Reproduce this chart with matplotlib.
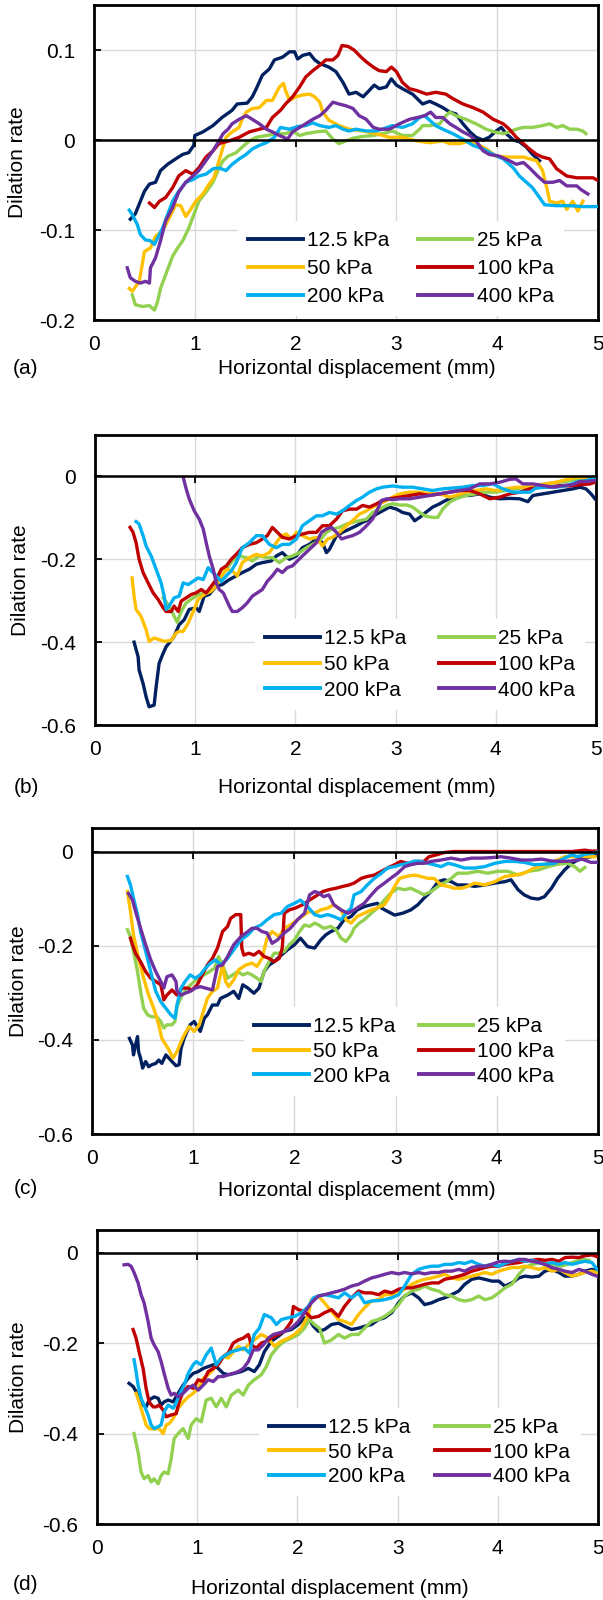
import matplotlib
matplotlib.use("Agg")
import matplotlib.pyplot as plt

plt.rcParams['font.family'] = ['Liberation Sans', 'DejaVu Sans']
plt.rcParams['axes.unicode_minus'] = False

# ---------------- data ----------------
series_labels = ['12.5 kPa', '25 kPa', '50 kPa', '100 kPa', '200 kPa', '400 kPa']
series_colors = ['#002060', '#92D050', '#FFC000', '#C00000', '#00B0F0', '#7030A0']
x_ticks = [0, 1, 2, 3, 4, 5]
x_label = 'Horizontal displacement (mm)'
y_label = 'Dilation rate'

A_125 = [(0.36,-0.088),(0.41,-0.082),(0.50,-0.057),(0.55,-0.049),(0.61,-0.047),(0.66,-0.034),(0.73,-0.027),(0.81,-0.021),(0.88,-0.016),(0.94,-0.014),(0.99,-0.006),(1.00,0.005),(1.08,0.009),(1.18,0.016),(1.27,0.025),(1.37,0.033),(1.42,0.040),(1.52,0.041),(1.57,0.048),(1.61,0.057),(1.67,0.072),(1.74,0.079),(1.79,0.089),(1.87,0.092),(1.94,0.098),(1.99,0.098),(2.02,0.090),(2.07,0.094),(2.14,0.096),(2.19,0.089),(2.24,0.085),(2.33,0.081),(2.40,0.076),(2.47,0.064),(2.53,0.051),(2.60,0.053),(2.67,0.048),(2.73,0.055),(2.78,0.061),(2.83,0.057),(2.90,0.059),(2.95,0.068),(3.00,0.061),(3.06,0.057),(3.16,0.051),(3.26,0.040),(3.33,0.043),(3.39,0.040),(3.46,0.036),(3.53,0.031),(3.59,0.029),(3.66,0.018),(3.73,0.009),(3.79,0.003),(3.86,0.000),(3.92,0.003),(3.99,0.010),(4.04,0.014),(4.09,0.007),(4.16,0.000),(4.22,-0.002),(4.29,-0.008),(4.35,-0.016),(4.42,-0.023)]
A_25 = [(0.38,-0.172),(0.41,-0.183),(0.48,-0.185),(0.55,-0.184),(0.60,-0.189),(0.63,-0.180),(0.66,-0.165),(0.71,-0.150),(0.78,-0.129),(0.83,-0.120),(0.88,-0.112),(0.94,-0.098),(0.99,-0.083),(1.04,-0.068),(1.11,-0.058),(1.18,-0.047),(1.23,-0.034),(1.28,-0.023),(1.33,-0.018),(1.41,-0.014),(1.47,-0.008),(1.54,-0.001),(1.61,0.003),(1.71,0.005),(1.81,0.007),(1.90,0.007),(1.97,0.010),(2.04,0.005),(2.10,0.007),(2.20,0.009),(2.30,0.010),(2.37,0.001),(2.43,-0.004),(2.50,-0.001),(2.57,0.002),(2.67,0.004),(2.77,0.005),(2.86,0.007),(2.96,0.010),(3.06,0.005),(3.16,0.005),(3.23,0.012),(3.26,0.016),(3.33,0.016),(3.43,0.018),(3.49,0.027),(3.53,0.031),(3.59,0.027),(3.69,0.023),(3.79,0.018),(3.89,0.012),(3.97,0.009),(4.06,0.007),(4.12,0.009),(4.19,0.012),(4.26,0.014),(4.35,0.014),(4.45,0.016),(4.52,0.018),(4.59,0.014),(4.65,0.016),(4.72,0.012),(4.79,0.012),(4.85,0.010),(4.88,0.007)]
A_50 = [(0.35,-0.165),(0.38,-0.168),(0.45,-0.157),(0.50,-0.124),(0.56,-0.120),(0.61,-0.107),(0.68,-0.101),(0.75,-0.086),(0.81,-0.072),(0.86,-0.073),(0.91,-0.085),(0.96,-0.077),(1.01,-0.068),(1.08,-0.060),(1.13,-0.051),(1.19,-0.042),(1.24,-0.023),(1.28,-0.008),(1.31,0.003),(1.37,0.009),(1.44,0.014),(1.47,0.023),(1.51,0.031),(1.57,0.035),(1.64,0.036),(1.71,0.044),(1.77,0.044),(1.84,0.059),(1.88,0.063),(1.90,0.055),(1.94,0.044),(2.00,0.048),(2.07,0.050),(2.14,0.051),(2.19,0.048),(2.24,0.042),(2.27,0.031),(2.33,0.022),(2.43,0.016),(2.53,0.012),(2.67,0.010),(2.80,0.007),(2.93,0.003),(3.06,0.003),(3.20,-0.001),(3.33,-0.003),(3.46,-0.001),(3.53,-0.004),(3.63,-0.004),(3.73,-0.001),(3.79,-0.004),(3.89,-0.010),(3.99,-0.018),(4.12,-0.019),(4.26,-0.019),(4.39,-0.023),(4.45,-0.034),(4.50,-0.057),(4.52,-0.068),(4.59,-0.070),(4.65,-0.068),(4.69,-0.077),(4.75,-0.068),(4.80,-0.079),(4.85,-0.068)]
A_100 = [(0.55,-0.070),(0.60,-0.075),(0.65,-0.068),(0.71,-0.064),(0.78,-0.053),(0.84,-0.040),(0.91,-0.034),(0.98,-0.038),(1.04,-0.031),(1.11,-0.019),(1.18,-0.012),(1.24,-0.004),(1.34,-0.001),(1.44,0.003),(1.54,0.009),(1.64,0.012),(1.71,0.014),(1.77,0.025),(1.85,0.033),(1.90,0.040),(1.97,0.048),(2.04,0.059),(2.10,0.070),(2.17,0.077),(2.24,0.083),(2.30,0.089),(2.37,0.089),(2.42,0.094),(2.46,0.105),(2.52,0.104),(2.58,0.100),(2.65,0.092),(2.70,0.087),(2.77,0.081),(2.83,0.077),(2.90,0.076),(2.95,0.081),(3.00,0.076),(3.06,0.064),(3.13,0.057),(3.20,0.055),(3.30,0.051),(3.39,0.053),(3.49,0.051),(3.56,0.046),(3.66,0.040),(3.76,0.036),(3.86,0.031),(3.96,0.023),(4.06,0.018),(4.12,0.012),(4.19,0.003),(4.26,-0.004),(4.32,-0.010),(4.39,-0.016),(4.45,-0.019),(4.52,-0.021),(4.59,-0.032),(4.69,-0.040),(4.79,-0.042),(4.88,-0.042),(4.95,-0.042),(5.00,-0.045)]
A_200 = [(0.35,-0.078),(0.38,-0.083),(0.43,-0.094),(0.46,-0.105),(0.51,-0.111),(0.56,-0.112),(0.60,-0.116),(0.63,-0.109),(0.68,-0.098),(0.73,-0.083),(0.78,-0.068),(0.84,-0.057),(0.91,-0.047),(0.98,-0.044),(1.04,-0.040),(1.11,-0.038),(1.18,-0.032),(1.24,-0.031),(1.31,-0.034),(1.37,-0.027),(1.44,-0.021),(1.51,-0.016),(1.57,-0.010),(1.64,-0.006),(1.71,-0.003),(1.79,0.003),(1.85,0.014),(1.94,0.012),(2.02,0.015),(2.10,0.016),(2.17,0.019),(2.24,0.016),(2.33,0.014),(2.40,0.016),(2.47,0.012),(2.53,0.010),(2.60,0.012),(2.70,0.010),(2.80,0.010),(2.86,0.012),(2.96,0.016),(3.06,0.014),(3.16,0.018),(3.23,0.025),(3.28,0.027),(3.33,0.022),(3.39,0.016),(3.46,0.012),(3.56,0.007),(3.66,0.001),(3.76,-0.006),(3.86,-0.010),(3.96,-0.016),(4.06,-0.021),(4.16,-0.031),(4.22,-0.040),(4.29,-0.047),(4.35,-0.053),(4.42,-0.064),(4.47,-0.072),(4.59,-0.073),(4.72,-0.073),(4.85,-0.074),(5.00,-0.074)]
A_400 = [(0.33,-0.142),(0.36,-0.153),(0.41,-0.157),(0.46,-0.159),(0.51,-0.157),(0.55,-0.159),(0.56,-0.142),(0.61,-0.131),(0.66,-0.112),(0.71,-0.090),(0.78,-0.075),(0.84,-0.058),(0.91,-0.047),(0.98,-0.040),(1.04,-0.034),(1.11,-0.023),(1.18,-0.012),(1.24,-0.001),(1.28,0.007),(1.33,0.012),(1.37,0.018),(1.44,0.023),(1.51,0.027),(1.57,0.023),(1.64,0.018),(1.71,0.012),(1.77,0.009),(1.84,0.005),(1.92,0.001),(1.97,0.009),(2.04,0.014),(2.10,0.018),(2.17,0.023),(2.24,0.027),(2.30,0.033),(2.37,0.042),(2.43,0.040),(2.50,0.038),(2.57,0.035),(2.63,0.027),(2.70,0.023),(2.77,0.014),(2.83,0.012),(2.93,0.012),(3.03,0.018),(3.13,0.023),(3.21,0.025),(3.28,0.027),(3.34,0.031),(3.39,0.025),(3.46,0.025),(3.53,0.018),(3.59,0.014),(3.66,0.009),(3.73,0.005),(3.79,-0.001),(3.86,-0.012),(3.92,-0.016),(4.02,-0.018),(4.12,-0.023),(4.19,-0.027),(4.26,-0.025),(4.32,-0.031),(4.40,-0.040),(4.47,-0.047),(4.55,-0.047),(4.62,-0.045),(4.69,-0.051),(4.79,-0.051),(4.83,-0.055),(4.90,-0.060)]

B_125 = [(0.39,-0.400),(0.43,-0.435),(0.44,-0.467),(0.48,-0.500),(0.51,-0.532),(0.54,-0.556),(0.59,-0.552),(0.61,-0.508),(0.64,-0.451),(0.68,-0.427),(0.71,-0.411),(0.74,-0.402),(0.79,-0.386),(0.84,-0.358),(0.89,-0.346),(0.94,-0.321),(1.01,-0.317),(1.04,-0.326),(1.09,-0.289),(1.14,-0.285),(1.21,-0.265),(1.27,-0.261),(1.34,-0.249),(1.41,-0.240),(1.47,-0.232),(1.54,-0.224),(1.61,-0.212),(1.67,-0.208),(1.76,-0.204),(1.81,-0.192),(1.87,-0.184),(1.94,-0.200),(2.01,-0.192),(2.07,-0.172),(2.14,-0.164),(2.21,-0.151),(2.27,-0.160),(2.31,-0.184),(2.34,-0.176),(2.41,-0.143),(2.47,-0.135),(2.54,-0.127),(2.61,-0.119),(2.67,-0.111),(2.74,-0.103),(2.81,-0.091),(2.87,-0.083),(2.94,-0.074),(3.01,-0.079),(3.07,-0.087),(3.14,-0.091),(3.19,-0.107),(3.24,-0.099),(3.30,-0.087),(3.37,-0.074),(3.44,-0.066),(3.50,-0.058),(3.57,-0.050),(3.64,-0.046),(3.74,-0.046),(3.84,-0.042),(3.94,-0.050),(4.04,-0.054),(4.14,-0.053),(4.24,-0.054),(4.32,-0.061),(4.37,-0.046),(4.47,-0.042),(4.57,-0.038),(4.67,-0.034),(4.77,-0.030),(4.84,-0.026),(4.90,-0.030),(4.95,-0.042),(4.99,-0.054)]
B_25 = [(0.68,-0.293),(0.74,-0.313),(0.82,-0.352),(0.86,-0.326),(0.91,-0.305),(0.98,-0.293),(1.04,-0.285),(1.11,-0.281),(1.18,-0.269),(1.24,-0.249),(1.31,-0.224),(1.37,-0.204),(1.44,-0.192),(1.51,-0.196),(1.57,-0.204),(1.64,-0.192),(1.71,-0.196),(1.77,-0.196),(1.84,-0.208),(1.91,-0.196),(1.97,-0.192),(2.04,-0.184),(2.11,-0.172),(2.17,-0.164),(2.24,-0.155),(2.31,-0.135),(2.37,-0.127),(2.44,-0.123),(2.51,-0.115),(2.57,-0.111),(2.64,-0.107),(2.71,-0.103),(2.77,-0.087),(2.84,-0.079),(2.91,-0.070),(2.97,-0.066),(3.04,-0.069),(3.11,-0.069),(3.17,-0.074),(3.24,-0.087),(3.30,-0.096),(3.37,-0.099),(3.42,-0.099),(3.47,-0.079),(3.54,-0.062),(3.60,-0.054),(3.70,-0.046),(3.80,-0.042),(3.90,-0.038),(4.00,-0.038),(4.10,-0.034),(4.20,-0.030),(4.30,-0.026),(4.40,-0.022),(4.50,-0.018),(4.60,-0.015),(4.70,-0.012),(4.80,-0.007),(4.90,-0.004),(4.97,-0.002)]
B_50 = [(0.37,-0.245),(0.39,-0.289),(0.41,-0.321),(0.46,-0.338),(0.51,-0.370),(0.54,-0.398),(0.59,-0.390),(0.64,-0.394),(0.69,-0.398),(0.76,-0.396),(0.81,-0.378),(0.84,-0.374),(0.88,-0.374),(0.93,-0.354),(0.98,-0.326),(1.03,-0.297),(1.09,-0.285),(1.16,-0.277),(1.21,-0.265),(1.26,-0.240),(1.31,-0.224),(1.37,-0.228),(1.42,-0.240),(1.47,-0.208),(1.54,-0.196),(1.61,-0.188),(1.67,-0.192),(1.74,-0.184),(1.81,-0.160),(1.86,-0.143),(1.91,-0.139),(1.96,-0.151),(2.01,-0.135),(2.07,-0.143),(2.14,-0.151),(2.21,-0.147),(2.27,-0.168),(2.32,-0.151),(2.37,-0.147),(2.44,-0.135),(2.51,-0.119),(2.57,-0.107),(2.64,-0.091),(2.71,-0.083),(2.77,-0.074),(2.84,-0.066),(2.91,-0.058),(2.97,-0.050),(3.04,-0.042),(3.14,-0.038),(3.24,-0.038),(3.34,-0.042),(3.44,-0.042),(3.54,-0.050),(3.60,-0.046),(3.70,-0.038),(3.80,-0.034),(3.90,-0.030),(4.00,-0.034),(4.10,-0.030),(4.20,-0.026),(4.30,-0.026),(4.40,-0.022),(4.50,-0.018),(4.60,-0.014),(4.70,-0.008),(4.80,-0.002),(4.87,-0.002),(4.94,-0.006)]
B_100 = [(0.35,-0.123),(0.38,-0.135),(0.41,-0.160),(0.44,-0.200),(0.48,-0.232),(0.53,-0.257),(0.58,-0.281),(0.63,-0.297),(0.68,-0.317),(0.71,-0.326),(0.76,-0.326),(0.79,-0.313),(0.83,-0.326),(0.86,-0.301),(0.91,-0.293),(0.96,-0.285),(1.01,-0.281),(1.06,-0.273),(1.11,-0.281),(1.16,-0.265),(1.21,-0.249),(1.26,-0.224),(1.31,-0.216),(1.36,-0.200),(1.41,-0.188),(1.47,-0.172),(1.54,-0.164),(1.61,-0.160),(1.67,-0.151),(1.72,-0.143),(1.77,-0.123),(1.82,-0.135),(1.87,-0.147),(1.94,-0.151),(2.01,-0.143),(2.07,-0.139),(2.14,-0.135),(2.21,-0.135),(2.27,-0.119),(2.34,-0.119),(2.41,-0.103),(2.47,-0.083),(2.54,-0.079),(2.61,-0.079),(2.67,-0.070),(2.74,-0.074),(2.81,-0.066),(2.87,-0.058),(2.94,-0.054),(3.04,-0.050),(3.14,-0.046),(3.24,-0.042),(3.34,-0.046),(3.44,-0.042),(3.54,-0.038),(3.64,-0.034),(3.74,-0.034),(3.84,-0.042),(3.94,-0.054),(4.04,-0.050),(4.14,-0.042),(4.24,-0.038),(4.34,-0.030),(4.44,-0.026),(4.54,-0.026),(4.64,-0.022),(4.74,-0.023),(4.84,-0.020),(4.94,-0.018),(4.99,-0.014)]
B_200 = [(0.41,-0.109),(0.44,-0.115),(0.48,-0.143),(0.51,-0.168),(0.56,-0.192),(0.61,-0.224),(0.66,-0.257),(0.69,-0.289),(0.71,-0.321),(0.74,-0.313),(0.79,-0.293),(0.84,-0.289),(0.88,-0.257),(0.93,-0.261),(0.98,-0.253),(1.03,-0.245),(1.08,-0.249),(1.13,-0.220),(1.16,-0.228),(1.21,-0.240),(1.26,-0.253),(1.31,-0.240),(1.36,-0.228),(1.41,-0.208),(1.47,-0.172),(1.54,-0.160),(1.61,-0.143),(1.67,-0.143),(1.74,-0.164),(1.81,-0.172),(1.87,-0.164),(1.94,-0.164),(2.01,-0.151),(2.07,-0.119),(2.14,-0.107),(2.21,-0.095),(2.27,-0.095),(2.34,-0.087),(2.41,-0.091),(2.47,-0.083),(2.54,-0.070),(2.61,-0.058),(2.67,-0.050),(2.74,-0.038),(2.81,-0.030),(2.87,-0.026),(2.97,-0.023),(3.07,-0.026),(3.17,-0.026),(3.27,-0.030),(3.37,-0.034),(3.47,-0.030),(3.57,-0.028),(3.67,-0.026),(3.77,-0.022),(3.87,-0.022),(3.97,-0.018),(4.07,-0.030),(4.17,-0.038),(4.27,-0.038),(4.34,-0.038),(4.40,-0.028),(4.50,-0.026),(4.60,-0.026),(4.70,-0.023),(4.80,-0.014),(4.90,-0.010),(4.99,-0.004)]
B_400 = [(0.88,-0.002),(0.91,-0.030),(0.94,-0.054),(0.99,-0.083),(1.04,-0.103),(1.08,-0.127),(1.11,-0.160),(1.14,-0.192),(1.18,-0.224),(1.21,-0.257),(1.24,-0.273),(1.28,-0.281),(1.31,-0.297),(1.34,-0.313),(1.37,-0.326),(1.42,-0.326),(1.47,-0.317),(1.52,-0.305),(1.57,-0.289),(1.62,-0.281),(1.67,-0.273),(1.72,-0.253),(1.77,-0.240),(1.82,-0.224),(1.87,-0.232),(1.92,-0.220),(1.97,-0.216),(2.02,-0.204),(2.07,-0.192),(2.14,-0.176),(2.21,-0.160),(2.26,-0.135),(2.31,-0.127),(2.36,-0.123),(2.41,-0.135),(2.46,-0.151),(2.51,-0.147),(2.57,-0.143),(2.64,-0.135),(2.71,-0.119),(2.77,-0.103),(2.82,-0.079),(2.86,-0.058),(2.91,-0.054),(2.97,-0.056),(3.04,-0.054),(3.14,-0.054),(3.24,-0.050),(3.34,-0.046),(3.44,-0.042),(3.54,-0.038),(3.64,-0.034),(3.74,-0.030),(3.84,-0.018),(3.94,-0.018),(4.04,-0.014),(4.14,-0.007),(4.20,-0.006),(4.27,-0.018),(4.37,-0.018),(4.47,-0.022),(4.57,-0.026),(4.67,-0.022),(4.77,-0.020),(4.84,-0.012),(4.92,-0.012),(4.99,-0.010)]

C_125 = [(0.37,-0.397),(0.40,-0.411),(0.41,-0.432),(0.43,-0.411),(0.45,-0.393),(0.46,-0.425),(0.48,-0.439),(0.50,-0.460),(0.53,-0.446),(0.56,-0.457),(0.59,-0.453),(0.63,-0.450),(0.66,-0.443),(0.69,-0.450),(0.73,-0.432),(0.76,-0.439),(0.79,-0.446),(0.83,-0.455),(0.86,-0.453),(0.88,-0.418),(0.91,-0.397),(0.94,-0.382),(0.97,-0.368),(1.01,-0.361),(1.04,-0.372),(1.07,-0.382),(1.11,-0.354),(1.14,-0.347),(1.19,-0.326),(1.24,-0.326),(1.27,-0.312),(1.34,-0.305),(1.40,-0.297),(1.45,-0.312),(1.49,-0.283),(1.54,-0.290),(1.60,-0.301),(1.65,-0.290),(1.70,-0.255),(1.75,-0.241),(1.80,-0.234),(1.87,-0.220),(1.93,-0.209),(2.00,-0.198),(2.06,-0.184),(2.13,-0.202),(2.20,-0.205),(2.26,-0.188),(2.31,-0.177),(2.36,-0.170),(2.43,-0.163),(2.49,-0.145),(2.56,-0.138),(2.62,-0.124),(2.69,-0.117),(2.76,-0.113),(2.82,-0.110),(2.86,-0.120),(2.92,-0.127),(2.99,-0.135),(3.07,-0.131),(3.15,-0.124),(3.22,-0.113),(3.28,-0.099),(3.35,-0.085),(3.42,-0.064),(3.48,-0.060),(3.55,-0.064),(3.61,-0.071),(3.70,-0.071),(3.78,-0.074),(3.88,-0.071),(3.98,-0.067),(4.08,-0.064),(4.14,-0.060),(4.21,-0.081),(4.27,-0.092),(4.34,-0.099),(4.41,-0.101),(4.47,-0.096),(4.54,-0.078),(4.60,-0.057),(4.67,-0.039),(4.74,-0.025),(4.80,-0.018),(4.87,-0.014),(4.93,-0.011),(5.00,-0.007)]
C_25 = [(0.35,-0.166),(0.38,-0.181),(0.41,-0.212),(0.45,-0.255),(0.48,-0.297),(0.51,-0.333),(0.55,-0.347),(0.59,-0.351),(0.64,-0.351),(0.68,-0.361),(0.71,-0.375),(0.74,-0.368),(0.79,-0.368),(0.82,-0.361),(0.84,-0.329),(0.89,-0.305),(0.94,-0.290),(1.01,-0.276),(1.07,-0.266),(1.14,-0.258),(1.21,-0.248),(1.25,-0.223),(1.29,-0.241),(1.34,-0.269),(1.39,-0.262),(1.44,-0.255),(1.49,-0.262),(1.54,-0.258),(1.58,-0.262),(1.63,-0.269),(1.67,-0.276),(1.70,-0.255),(1.75,-0.234),(1.80,-0.216),(1.85,-0.216),(1.90,-0.212),(1.95,-0.198),(2.00,-0.188),(2.05,-0.170),(2.10,-0.156),(2.15,-0.159),(2.20,-0.152),(2.24,-0.156),(2.29,-0.163),(2.36,-0.159),(2.41,-0.166),(2.46,-0.184),(2.51,-0.191),(2.56,-0.177),(2.59,-0.163),(2.64,-0.152),(2.69,-0.145),(2.76,-0.131),(2.82,-0.120),(2.89,-0.103),(2.95,-0.089),(3.02,-0.078),(3.09,-0.081),(3.15,-0.078),(3.22,-0.085),(3.28,-0.092),(3.35,-0.085),(3.42,-0.074),(3.48,-0.067),(3.55,-0.057),(3.61,-0.046),(3.71,-0.046),(3.81,-0.042),(3.91,-0.046),(4.01,-0.042),(4.11,-0.042),(4.21,-0.050),(4.31,-0.042),(4.41,-0.039),(4.51,-0.032),(4.60,-0.027),(4.70,-0.025),(4.77,-0.032),(4.82,-0.042),(4.87,-0.034)]
C_50 = [(0.35,-0.085),(0.38,-0.127),(0.41,-0.177),(0.46,-0.227),(0.51,-0.269),(0.56,-0.305),(0.61,-0.333),(0.66,-0.368),(0.69,-0.397),(0.73,-0.411),(0.76,-0.421),(0.80,-0.439),(0.84,-0.425),(0.88,-0.404),(0.91,-0.390),(0.96,-0.372),(1.01,-0.382),(1.06,-0.368),(1.11,-0.333),(1.14,-0.312),(1.19,-0.297),(1.24,-0.290),(1.29,-0.241),(1.32,-0.276),(1.35,-0.287),(1.40,-0.273),(1.45,-0.251),(1.52,-0.241),(1.58,-0.237),(1.63,-0.244),(1.68,-0.227),(1.73,-0.184),(1.78,-0.170),(1.85,-0.181),(1.90,-0.163),(1.96,-0.156),(2.03,-0.145),(2.10,-0.134),(2.15,-0.127),(2.20,-0.131),(2.26,-0.124),(2.33,-0.120),(2.39,-0.113),(2.46,-0.124),(2.51,-0.145),(2.56,-0.152),(2.62,-0.138),(2.69,-0.131),(2.76,-0.124),(2.82,-0.120),(2.89,-0.113),(2.94,-0.096),(2.99,-0.074),(3.04,-0.057),(3.10,-0.053),(3.19,-0.050),(3.25,-0.053),(3.32,-0.057),(3.38,-0.057),(3.45,-0.071),(3.52,-0.074),(3.58,-0.078),(3.65,-0.078),(3.71,-0.074),(3.78,-0.067),(3.88,-0.071),(3.98,-0.064),(4.08,-0.053),(4.18,-0.050),(4.27,-0.046),(4.37,-0.035),(4.47,-0.028),(4.57,-0.021),(4.67,-0.011),(4.77,-0.011),(4.87,-0.011),(4.97,-0.011)]
C_100 = [(0.38,-0.184),(0.40,-0.198),(0.43,-0.216),(0.48,-0.234),(0.53,-0.255),(0.58,-0.269),(0.63,-0.276),(0.68,-0.283),(0.71,-0.315),(0.74,-0.305),(0.79,-0.294),(0.84,-0.305),(0.89,-0.290),(0.94,-0.290),(0.99,-0.294),(1.04,-0.283),(1.09,-0.262),(1.14,-0.241),(1.19,-0.227),(1.24,-0.205),(1.29,-0.170),(1.34,-0.159),(1.37,-0.142),(1.42,-0.134),(1.47,-0.134),(1.48,-0.205),(1.50,-0.220),(1.55,-0.216),(1.60,-0.220),(1.65,-0.212),(1.70,-0.223),(1.75,-0.227),(1.80,-0.234),(1.85,-0.227),(1.88,-0.205),(1.90,-0.131),(1.95,-0.124),(2.01,-0.120),(2.08,-0.113),(2.15,-0.103),(2.21,-0.095),(2.28,-0.085),(2.34,-0.081),(2.41,-0.078),(2.48,-0.074),(2.54,-0.071),(2.59,-0.067),(2.66,-0.057),(2.72,-0.053),(2.79,-0.050),(2.86,-0.042),(2.92,-0.035),(2.99,-0.028),(3.05,-0.021),(3.12,-0.025),(3.22,-0.021),(3.28,-0.021),(3.33,-0.011),(3.42,-0.006),(3.48,-0.002),(3.58,0.0),(3.75,0.0),(3.91,0.0),(4.08,0.0),(4.24,0.0),(4.41,0.0),(4.57,0.0),(4.74,0.0),(4.87,0.003),(4.93,0.001),(5.00,0.001)]
C_200 = [(0.35,-0.053),(0.38,-0.071),(0.41,-0.099),(0.45,-0.134),(0.48,-0.170),(0.53,-0.212),(0.58,-0.255),(0.63,-0.297),(0.68,-0.319),(0.73,-0.333),(0.78,-0.347),(0.82,-0.354),(0.84,-0.326),(0.88,-0.290),(0.92,-0.276),(0.97,-0.262),(1.02,-0.269),(1.07,-0.262),(1.12,-0.248),(1.17,-0.237),(1.22,-0.230),(1.27,-0.241),(1.34,-0.227),(1.40,-0.209),(1.47,-0.188),(1.54,-0.177),(1.60,-0.163),(1.67,-0.156),(1.73,-0.145),(1.80,-0.134),(1.87,-0.131),(1.93,-0.117),(2.00,-0.110),(2.06,-0.103),(2.13,-0.117),(2.20,-0.134),(2.26,-0.138),(2.33,-0.134),(2.39,-0.138),(2.46,-0.145),(2.51,-0.131),(2.56,-0.120),(2.59,-0.092),(2.66,-0.085),(2.72,-0.071),(2.79,-0.057),(2.86,-0.046),(2.92,-0.035),(2.99,-0.032),(3.05,-0.028),(3.12,-0.025),(3.19,-0.020),(3.25,-0.021),(3.32,-0.025),(3.38,-0.028),(3.45,-0.032),(3.52,-0.025),(3.58,-0.028),(3.68,-0.035),(3.78,-0.035),(3.88,-0.032),(3.98,-0.025),(4.08,-0.021),(4.18,-0.021),(4.27,-0.023),(4.37,-0.028),(4.47,-0.027),(4.57,-0.025),(4.67,-0.014),(4.74,-0.007),(4.80,-0.011),(4.87,-0.006),(4.93,-0.004),(5.00,-0.001)]
C_400 = [(0.36,-0.089),(0.40,-0.103),(0.43,-0.127),(0.48,-0.163),(0.53,-0.198),(0.58,-0.230),(0.63,-0.255),(0.68,-0.276),(0.71,-0.290),(0.74,-0.266),(0.79,-0.262),(0.83,-0.276),(0.84,-0.297),(0.88,-0.305),(0.92,-0.301),(0.97,-0.297),(1.02,-0.290),(1.07,-0.287),(1.12,-0.290),(1.19,-0.294),(1.24,-0.244),(1.29,-0.241),(1.34,-0.223),(1.40,-0.198),(1.47,-0.181),(1.54,-0.170),(1.58,-0.163),(1.63,-0.163),(1.68,-0.170),(1.73,-0.173),(1.78,-0.195),(1.83,-0.188),(1.90,-0.173),(1.96,-0.163),(2.03,-0.145),(2.10,-0.131),(2.15,-0.092),(2.20,-0.085),(2.24,-0.088),(2.29,-0.096),(2.34,-0.092),(2.39,-0.113),(2.46,-0.124),(2.53,-0.131),(2.59,-0.124),(2.64,-0.117),(2.69,-0.110),(2.76,-0.092),(2.82,-0.078),(2.89,-0.067),(2.95,-0.057),(3.02,-0.046),(3.09,-0.032),(3.15,-0.028),(3.22,-0.025),(3.28,-0.025),(3.35,-0.021),(3.45,-0.018),(3.55,-0.014),(3.65,-0.018),(3.75,-0.014),(3.85,-0.014),(3.94,-0.013),(4.04,-0.011),(4.14,-0.014),(4.24,-0.018),(4.34,-0.018),(4.44,-0.016),(4.54,-0.020),(4.64,-0.021),(4.74,-0.020),(4.84,-0.016),(4.93,-0.023),(5.00,-0.023)]

D_125 = [(0.32,-0.289),(0.36,-0.296),(0.39,-0.307),(0.42,-0.322),(0.46,-0.337),(0.49,-0.341),(0.52,-0.326),(0.57,-0.319),(0.61,-0.322),(0.64,-0.337),(0.67,-0.330),(0.71,-0.326),(0.76,-0.330),(0.81,-0.311),(0.86,-0.293),(0.91,-0.278),(0.96,-0.267),(1.01,-0.263),(1.06,-0.256),(1.11,-0.252),(1.16,-0.248),(1.21,-0.256),(1.26,-0.267),(1.31,-0.270),(1.37,-0.267),(1.44,-0.263),(1.51,-0.256),(1.57,-0.263),(1.62,-0.248),(1.67,-0.219),(1.74,-0.196),(1.81,-0.185),(1.87,-0.174),(1.94,-0.170),(2.01,-0.159),(2.07,-0.144),(2.12,-0.148),(2.16,-0.163),(2.21,-0.174),(2.27,-0.170),(2.34,-0.159),(2.41,-0.156),(2.47,-0.163),(2.54,-0.170),(2.61,-0.167),(2.67,-0.163),(2.74,-0.159),(2.81,-0.148),(2.87,-0.144),(2.94,-0.133),(3.01,-0.111),(3.07,-0.096),(3.14,-0.089),(3.21,-0.100),(3.27,-0.115),(3.34,-0.111),(3.41,-0.104),(3.47,-0.100),(3.54,-0.093),(3.61,-0.085),(3.67,-0.070),(3.74,-0.059),(3.81,-0.056),(3.87,-0.059),(3.94,-0.063),(4.01,-0.063),(4.07,-0.074),(4.14,-0.067),(4.21,-0.056),(4.27,-0.052),(4.34,-0.054),(4.41,-0.052),(4.47,-0.041),(4.54,-0.037),(4.61,-0.044),(4.67,-0.052),(4.74,-0.052),(4.81,-0.048),(4.87,-0.041),(4.94,-0.037),(4.99,-0.041)]
D_25 = [(0.37,-0.400),(0.41,-0.441),(0.44,-0.485),(0.47,-0.500),(0.51,-0.493),(0.54,-0.507),(0.57,-0.500),(0.61,-0.511),(0.64,-0.493),(0.67,-0.485),(0.71,-0.489),(0.74,-0.456),(0.77,-0.411),(0.81,-0.400),(0.86,-0.389),(0.91,-0.411),(0.94,-0.381),(0.99,-0.367),(1.04,-0.374),(1.09,-0.326),(1.14,-0.322),(1.19,-0.341),(1.24,-0.322),(1.29,-0.341),(1.34,-0.315),(1.41,-0.304),(1.46,-0.315),(1.51,-0.293),(1.57,-0.281),(1.64,-0.270),(1.69,-0.252),(1.74,-0.226),(1.81,-0.207),(1.87,-0.196),(1.94,-0.189),(2.01,-0.181),(2.07,-0.167),(2.12,-0.148),(2.17,-0.159),(2.22,-0.167),(2.27,-0.200),(2.34,-0.193),(2.41,-0.181),(2.47,-0.189),(2.54,-0.181),(2.61,-0.181),(2.67,-0.167),(2.74,-0.152),(2.81,-0.148),(2.87,-0.141),(2.94,-0.130),(3.01,-0.115),(3.07,-0.096),(3.14,-0.085),(3.21,-0.081),(3.27,-0.074),(3.34,-0.081),(3.41,-0.085),(3.47,-0.093),(3.54,-0.096),(3.61,-0.104),(3.67,-0.107),(3.74,-0.104),(3.81,-0.096),(3.87,-0.104),(3.94,-0.100),(4.01,-0.089),(4.07,-0.078),(4.14,-0.070),(4.21,-0.048),(4.27,-0.033),(4.34,-0.026),(4.44,-0.022),(4.54,-0.026),(4.64,-0.030),(4.74,-0.022),(4.84,-0.015),(4.91,-0.017)]
D_50 = [(0.39,-0.311),(0.42,-0.330),(0.46,-0.359),(0.49,-0.381),(0.52,-0.389),(0.57,-0.390),(0.62,-0.389),(0.66,-0.400),(0.69,-0.381),(0.72,-0.378),(0.76,-0.367),(0.81,-0.344),(0.86,-0.330),(0.91,-0.319),(0.96,-0.311),(1.01,-0.300),(1.06,-0.278),(1.11,-0.270),(1.16,-0.259),(1.21,-0.241),(1.26,-0.230),(1.31,-0.233),(1.36,-0.219),(1.41,-0.207),(1.46,-0.215),(1.51,-0.204),(1.57,-0.193),(1.64,-0.181),(1.71,-0.189),(1.77,-0.207),(1.84,-0.196),(1.91,-0.189),(1.97,-0.181),(2.04,-0.167),(2.11,-0.137),(2.14,-0.104),(2.21,-0.096),(2.27,-0.111),(2.34,-0.130),(2.41,-0.148),(2.47,-0.152),(2.54,-0.159),(2.61,-0.137),(2.67,-0.122),(2.74,-0.107),(2.81,-0.104),(2.87,-0.093),(2.94,-0.093),(3.01,-0.089),(3.07,-0.081),(3.14,-0.070),(3.21,-0.063),(3.27,-0.059),(3.34,-0.056),(3.41,-0.052),(3.47,-0.048),(3.54,-0.056),(3.61,-0.059),(3.67,-0.056),(3.74,-0.052),(3.81,-0.048),(3.87,-0.044),(3.94,-0.048),(4.01,-0.041),(4.07,-0.037),(4.14,-0.033),(4.21,-0.033),(4.27,-0.030),(4.34,-0.033),(4.41,-0.037),(4.47,-0.033),(4.54,-0.041),(4.61,-0.037),(4.67,-0.044),(4.74,-0.052),(4.81,-0.048),(4.87,-0.044),(4.94,-0.041),(4.99,-0.044)]
D_100 = [(0.36,-0.170),(0.39,-0.189),(0.42,-0.219),(0.46,-0.256),(0.49,-0.300),(0.52,-0.330),(0.56,-0.341),(0.59,-0.341),(0.62,-0.337),(0.66,-0.348),(0.69,-0.363),(0.74,-0.359),(0.79,-0.356),(0.82,-0.330),(0.86,-0.307),(0.91,-0.296),(0.96,-0.300),(1.01,-0.281),(1.06,-0.285),(1.11,-0.263),(1.16,-0.256),(1.21,-0.248),(1.26,-0.230),(1.31,-0.222),(1.36,-0.200),(1.41,-0.193),(1.46,-0.189),(1.51,-0.181),(1.54,-0.204),(1.59,-0.211),(1.64,-0.200),(1.69,-0.196),(1.74,-0.189),(1.81,-0.181),(1.87,-0.174),(1.94,-0.152),(1.96,-0.119),(2.01,-0.126),(2.07,-0.130),(2.14,-0.144),(2.21,-0.141),(2.27,-0.133),(2.34,-0.126),(2.41,-0.141),(2.47,-0.119),(2.54,-0.100),(2.61,-0.085),(2.67,-0.089),(2.74,-0.089),(2.81,-0.093),(2.87,-0.085),(2.94,-0.089),(3.01,-0.081),(3.07,-0.078),(3.14,-0.078),(3.21,-0.074),(3.27,-0.070),(3.34,-0.067),(3.41,-0.067),(3.47,-0.059),(3.54,-0.056),(3.61,-0.052),(3.67,-0.048),(3.74,-0.041),(3.81,-0.037),(3.87,-0.033),(3.94,-0.030),(4.01,-0.030),(4.07,-0.026),(4.14,-0.024),(4.21,-0.022),(4.27,-0.019),(4.34,-0.017),(4.41,-0.015),(4.47,-0.017),(4.54,-0.015),(4.61,-0.019),(4.67,-0.011),(4.74,-0.010),(4.81,-0.011),(4.87,-0.007),(4.94,-0.005),(4.99,-0.009)]
D_200 = [(0.37,-0.237),(0.39,-0.263),(0.41,-0.293),(0.44,-0.322),(0.47,-0.337),(0.51,-0.359),(0.54,-0.381),(0.57,-0.389),(0.61,-0.385),(0.64,-0.381),(0.67,-0.352),(0.71,-0.337),(0.76,-0.344),(0.79,-0.333),(0.82,-0.315),(0.87,-0.293),(0.91,-0.267),(0.96,-0.248),(0.99,-0.241),(1.04,-0.248),(1.09,-0.226),(1.14,-0.211),(1.19,-0.248),(1.24,-0.233),(1.29,-0.226),(1.34,-0.219),(1.41,-0.215),(1.47,-0.211),(1.52,-0.222),(1.57,-0.181),(1.62,-0.167),(1.67,-0.137),(1.74,-0.144),(1.79,-0.159),(1.84,-0.148),(1.91,-0.144),(1.97,-0.141),(2.04,-0.133),(2.11,-0.119),(2.16,-0.100),(2.21,-0.096),(2.27,-0.093),(2.34,-0.096),(2.41,-0.100),(2.47,-0.089),(2.54,-0.100),(2.61,-0.089),(2.67,-0.111),(2.74,-0.107),(2.81,-0.106),(2.87,-0.104),(2.94,-0.100),(3.01,-0.093),(3.07,-0.074),(3.14,-0.048),(3.21,-0.037),(3.27,-0.033),(3.34,-0.030),(3.41,-0.030),(3.47,-0.026),(3.54,-0.026),(3.61,-0.022),(3.67,-0.024),(3.74,-0.019),(3.81,-0.026),(3.87,-0.030),(3.94,-0.026),(4.01,-0.030),(4.07,-0.024),(4.14,-0.019),(4.21,-0.015),(4.27,-0.019),(4.34,-0.017),(4.41,-0.022),(4.47,-0.026),(4.54,-0.022),(4.61,-0.026),(4.67,-0.022),(4.74,-0.026),(4.81,-0.022),(4.87,-0.019),(4.94,-0.022),(4.99,-0.037)]
D_400 = [(0.27,-0.027),(0.31,-0.026),(0.34,-0.030),(0.37,-0.044),(0.41,-0.067),(0.44,-0.093),(0.47,-0.111),(0.51,-0.152),(0.54,-0.189),(0.57,-0.204),(0.61,-0.219),(0.64,-0.241),(0.67,-0.267),(0.71,-0.300),(0.74,-0.315),(0.77,-0.311),(0.81,-0.319),(0.86,-0.311),(0.91,-0.300),(0.96,-0.293),(1.01,-0.304),(1.06,-0.293),(1.11,-0.281),(1.16,-0.285),(1.21,-0.274),(1.26,-0.274),(1.31,-0.270),(1.36,-0.267),(1.41,-0.263),(1.46,-0.256),(1.51,-0.241),(1.56,-0.215),(1.61,-0.215),(1.66,-0.204),(1.71,-0.189),(1.76,-0.181),(1.81,-0.178),(1.87,-0.174),(1.94,-0.167),(2.01,-0.152),(2.07,-0.133),(2.14,-0.111),(2.21,-0.096),(2.27,-0.093),(2.34,-0.089),(2.41,-0.085),(2.47,-0.081),(2.54,-0.074),(2.61,-0.070),(2.67,-0.063),(2.74,-0.056),(2.81,-0.052),(2.87,-0.048),(2.94,-0.044),(3.01,-0.047),(3.07,-0.044),(3.14,-0.047),(3.21,-0.044),(3.27,-0.047),(3.34,-0.044),(3.41,-0.044),(3.47,-0.041),(3.54,-0.041),(3.61,-0.037),(3.67,-0.041),(3.74,-0.033),(3.81,-0.030),(3.87,-0.030),(3.94,-0.026),(4.01,-0.020),(4.07,-0.019),(4.14,-0.020),(4.21,-0.015),(4.27,-0.015),(4.34,-0.019),(4.41,-0.022),(4.47,-0.026),(4.54,-0.033),(4.61,-0.037),(4.67,-0.041),(4.74,-0.044),(4.81,-0.037),(4.87,-0.041),(4.94,-0.048),(4.99,-0.052)]

panel_tags = ['(a)', '(b)', '(c)', '(d)']
panel_series = [
    [A_125, A_25, A_50, A_100, A_200, A_400],
    [B_125, B_25, B_50, B_100, B_200, B_400],
    [C_125, C_25, C_50, C_100, C_200, C_400],
    [D_125, D_25, D_50, D_100, D_200, D_400],
]
panel_ylims = [(-0.2, 0.15), (-0.6, 0.1), (-0.6, 0.05), (-0.6, 0.05)]
panel_yticks = [[-0.2, -0.1, 0, 0.1], [-0.6, -0.4, -0.2, 0], [-0.6, -0.4, -0.2, 0], [-0.6, -0.4, -0.2, 0]]
panel_yticklabels = [['-0.2', '-0.1', '0', '0.1'], ['-0.6', '-0.4', '-0.2', '0'],
                     ['-0.6', '-0.4', '-0.2', '0'], ['-0.6', '-0.4', '-0.2', '0']]

# ---------------- layout (pixels in a 603x1600 canvas) ----------------
W, H = 603, 1600
layout = [
    dict(box=(94, 598, 5, 320), ylab_x=18, xlab=(357, 368), tag=(26, 368), leg=(221, 221), colsp=1.4, lsp=0.42),
    dict(box=(95, 596, 435, 725), ylab_x=21, xlab=(357, 787), tag=(26, 787), leg=(255, 619), colsp=1.6, lsp=0.32),
    dict(box=(92, 598, 828, 1134), ylab_x=19, xlab=(357, 1190), tag=(26, 1188), leg=(244, 1007), colsp=1.15, lsp=0.27),
    dict(box=(97, 598, 1230, 1524), ylab_x=19, xlab=(330, 1588), tag=(26, 1585), leg=(259, 1408), colsp=1.2, lsp=0.25),
]
layout[0]['leg'] = (238, 221)

FS = 15
LW = 2.4
GRID = '#D9D9D9'

fig = plt.figure(figsize=(W / 100, H / 100), dpi=100)

def fx(px):
    return px / W

def fy(py):
    return 1 - py / H

for i in range(4):
    L = layout[i]
    l, r, t, b = L['box']
    ax = fig.add_axes([fx(l), fy(b), (r - l) / W, (b - t) / H])
    ax.set_xlim(0, 5)
    ax.set_ylim(*panel_ylims[i])
    ax.set_axisbelow(True)
    ax.grid(True, color=GRID, lw=1.0)
    handles = []
    for s, lab, col in zip(panel_series[i], series_labels, series_colors):
        xs = [p[0] for p in s]
        ys = [p[1] for p in s]
        h, = ax.plot(xs, ys, color=col, lw=LW, label=lab, solid_joinstyle='round', zorder=3)
        handles.append(h)
    ax.set_xticks(x_ticks)
    ax.set_xticklabels([str(v) for v in x_ticks])
    ax.set_yticks(panel_yticks[i])
    ax.set_yticklabels(panel_yticklabels[i])
    ax.tick_params(axis='x', length=0, pad=10.5, labelsize=FS)
    ax.tick_params(axis='y', direction='in', length=5, width=1.3, pad=13.5, labelsize=FS)
    for sp in ax.spines.values():
        sp.set_linewidth(2.0)
        sp.set_color('black')
    # zero line with tick marks (axis crossing at 0)
    y0, y1 = panel_ylims[i]
    zero_frac = (0 - y0) / (y1 - y0)
    sec = ax.secondary_xaxis(zero_frac)
    sec.set_alignment('bottom')
    sec.set_xticks([1, 2, 3, 4])
    sec.set_xticklabels([])
    sec.tick_params(axis='x', which='both', direction='out', length=5, width=1.3,
                    labelbottom=False, labeltop=False)
    for nm in ('top', 'bottom'):
        sec.spines[nm].set_linewidth(1.8)
        sec.spines[nm].set_color('black')
    sec.set_zorder(4)

    ax.set_xlabel(x_label, fontsize=FS, va='center', ha='center')
    ax.xaxis.set_label_coords(fx(L['xlab'][0]), fy(L['xlab'][1]), transform=fig.transFigure)
    ax.set_ylabel(y_label, fontsize=FS, va='center', ha='center')
    ax.yaxis.set_label_coords(fx(L['ylab_x']), fy((t + b) / 2), transform=fig.transFigure)
    fig.text(fx(L['tag'][0]), fy(L['tag'][1]), panel_tags[i], fontsize=FS, ha='center', va='center')

    order = [0, 2, 4, 1, 3, 5]
    leg = ax.legend([handles[k] for k in order], [series_labels[k] for k in order],
                    ncol=2, loc='upper left', bbox_to_anchor=(fx(L['leg'][0]), fy(L['leg'][1])),
                    bbox_transform=fig.transFigure, borderaxespad=0, borderpad=0.5,
                    fontsize=FS, handlelength=2.6, handletextpad=0.2,
                    columnspacing=L['colsp'], labelspacing=L['lsp'],
                    frameon=True, fancybox=False, framealpha=1, edgecolor='none', facecolor='white')
    leg.set_zorder(5)
    for lh in leg.get_lines():
        lh.set_linewidth(LW + 0.4)

fig.savefig('out.png', dpi=100)
